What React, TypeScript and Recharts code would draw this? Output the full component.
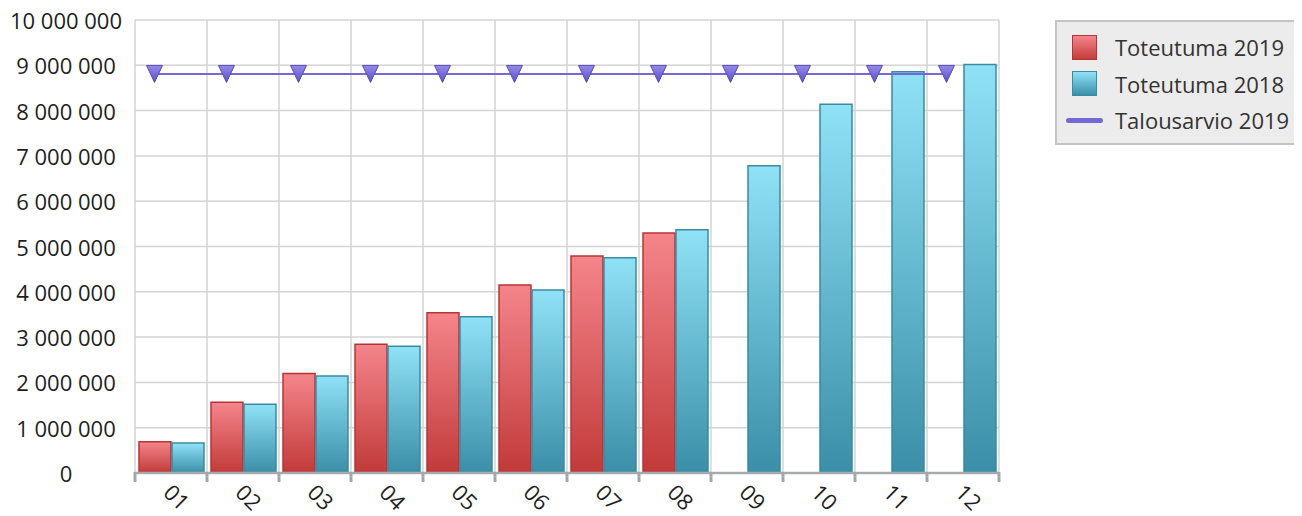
import React from 'react';
import {
  ComposedChart,
  Bar,
  Line,
  XAxis,
  YAxis,
  CartesianGrid,
  Legend,
} from 'recharts';

const months = ['01', '02', '03', '04', '05', '06', '07', '08', '09', '10', '11', '12'];
const toteutuma2019: (number | null)[] = [690000, 1560000, 2195000, 2840000, 3540000, 4150000, 4790000, 5300000, null, null, null, null];
const toteutuma2018 = [660000, 1520000, 2140000, 2800000, 3450000, 4040000, 4750000, 5370000, 6780000, 8140000, 8860000, 9020000];
const talousarvio2019 = [8810000, 8810000, 8810000, 8810000, 8810000, 8810000, 8810000, 8810000, 8810000, 8810000, 8810000, 8810000];
const yTicks = [0, 1000000, 2000000, 3000000, 4000000, 5000000, 6000000, 7000000, 8000000, 9000000, 10000000];

const seriesNames = ['Toteutuma 2019', 'Toteutuma 2018', 'Talousarvio 2019'];

const data = months.map((m, i) => ({
  month: m,
  t2019: toteutuma2019[i],
  t2018: toteutuma2018[i],
  budget: talousarvio2019[i],
}));

const FONT = '"Open Sans", "Noto Sans", sans-serif';
const FS = 22;
const BAR_SIZE = 32;
const BAR_GAP = 1;
const SHIFT = (BAR_SIZE + BAR_GAP) / 2;

const fmt = (v: number) => String(v).replace(/\B(?=(\d{3})+(?!\d))/g, ' ');

const YTick = (props: any) => {
  const { x, y, payload } = props;
  return (
    <text x={x - 69} y={y} dy={9} textAnchor="middle" fontSize={FS} fontFamily={FONT} fill="#1e1e1e">
      {fmt(payload.value)}
    </text>
  );
};

const XTick = (props: any) => {
  const { x, y, payload, index } = props;
  const half = payload && typeof payload.offset === 'number' && payload.offset > 0 ? payload.offset : 36;
  const isLast = index === months.length - 1;
  return (
    <g>
      <line x1={x - half} x2={x - half} y1={y - 1} y2={y + 9} stroke="#a3a6aa" strokeWidth={3} />
      {isLast && <line x1={x + half} x2={x + half} y1={y - 1} y2={y + 9} stroke="#a3a6aa" strokeWidth={3} />}
      <text
        transform={`translate(${x - 9}, ${y + 21}) rotate(45)`}
        textAnchor="start"
        fontSize={FS}
        fontFamily={FONT}
        fill="#1e1e1e"
      >
        {payload.value}
      </text>
    </g>
  );
};

const TriangleDot = (props: any) => {
  const { cx, cy, index } = props;
  if (cx == null || cy == null) return <g key={`d-${index}`} />;
  return (
    <path
      key={`d-${index}`}
      d={`M${cx - 8},${cy - 8.5} L${cx + 8},${cy - 8.5} L${cx},${cy + 8.5} Z`}
      fill="url(#gradPurple)"
      stroke="#5a4db4"
      strokeWidth={1}
    />
  );
};

const LegendContent = () => (
  <div
    style={{
      boxSizing: 'border-box',
      width: 243,
      height: 125,
      background: '#ececec',
      border: '2px solid #c4c4c4',
      fontFamily: FONT,
      fontSize: FS,
      color: '#333',
      position: 'relative',
    }}
  >
    {seriesNames.map((name, i) => (
      <div
        key={name}
        style={{ position: 'absolute', left: 0, top: 10 + i * 36.5, height: 30, width: 240, display: 'flex', alignItems: 'center' }}
      >
        <div style={{ width: 58, display: 'flex', justifyContent: 'center', alignItems: 'center' }}>
          {i === 0 && (
            <div style={{ width: 25, height: 25, boxSizing: 'border-box', border: '1.5px solid #b83434', background: 'linear-gradient(#f4858a, #c43c3c)', marginLeft: -3 }} />
          )}
          {i === 1 && (
            <div style={{ width: 25, height: 25, boxSizing: 'border-box', border: '1.5px solid #3a8aa2', background: 'linear-gradient(#8fe2f6, #3b8fa8)', marginLeft: -3 }} />
          )}
          {i === 2 && (
            <div style={{ width: 37, height: 5, borderRadius: 3, background: '#7668d4', marginLeft: -3 }} />
          )}
        </div>
        <span style={{ lineHeight: '30px' }}>{name}</span>
      </div>
    ))}
  </div>
);

export default function App() {
  return (
    <div style={{ fontFamily: FONT, width: 1294, height: 508 }}>
      <ComposedChart
        width={1294}
        height={508}
        data={data}
        margin={{ top: 12, right: 303, bottom: 0, left: 0 }}
        barGap={BAR_GAP}
      >
        <defs>
          <linearGradient id="gradRed" x1="0" y1="0" x2="0" y2="1">
            <stop offset="0%" stopColor="#f4858a" />
            <stop offset="100%" stopColor="#c23a3a" />
          </linearGradient>
          <linearGradient id="gradBlue" x1="0" y1="0" x2="0" y2="1">
            <stop offset="0%" stopColor="#8fe2f6" />
            <stop offset="100%" stopColor="#3a8ea7" />
          </linearGradient>
          <linearGradient id="gradPurple" x1="0" y1="0" x2="0" y2="1">
            <stop offset="0%" stopColor="#9589ec" />
            <stop offset="100%" stopColor="#5e4fc2" />
          </linearGradient>
        </defs>
        <CartesianGrid
          xAxisId="main"
          stroke="#d4d4d4"
          strokeWidth={1.5}
          verticalCoordinatesGenerator={({ offset }: any) =>
            months.map((_, i) => offset.left + (i * offset.width) / months.length).concat([offset.left + offset.width])
          }
        />
        <XAxis
          xAxisId="line"
          dataKey="month"
          hide
          height={0}
          orientation="top"
          padding={{ left: -SHIFT, right: SHIFT }}
        />
        <XAxis
          xAxisId="main"
          dataKey="month"
          height={43}
          tickLine={false}
          tickSize={0}
          tickMargin={0}
          axisLine={{ stroke: '#a8aaad', strokeWidth: 2.5 }}
          tick={<XTick />}
          interval={0}
        />
        <YAxis
          width={127}
          domain={[0, 10000000]}
          ticks={yTicks}
          interval={0}
          axisLine={false}
          tickLine={false}
          tickSize={0}
          tickMargin={0}
          tick={<YTick />}
        />
        <Legend
          layout="vertical"
          align="center"
          verticalAlign="middle"
          wrapperStyle={{ position: 'absolute', left: 1047, top: 12, width: 243, height: 125 }}
          content={<LegendContent />}
        />
        <Bar
          xAxisId="main"
          dataKey="t2019"
          name={seriesNames[0]}
          barSize={BAR_SIZE}
          fill="url(#gradRed)"
          stroke="#b83434"
          strokeWidth={1.5}
          isAnimationActive={false}
        />
        <Bar
          xAxisId="main"
          dataKey="t2018"
          name={seriesNames[1]}
          barSize={BAR_SIZE}
          fill="url(#gradBlue)"
          stroke="#3a8aa2"
          strokeWidth={1.5}
          isAnimationActive={false}
        />
        <Line
          xAxisId="line"
          dataKey="budget"
          name={seriesNames[2]}
          stroke="#7668d4"
          strokeWidth={2}
          dot={TriangleDot}
          activeDot={false}
          isAnimationActive={false}
        />
      </ComposedChart>
    </div>
  );
}
